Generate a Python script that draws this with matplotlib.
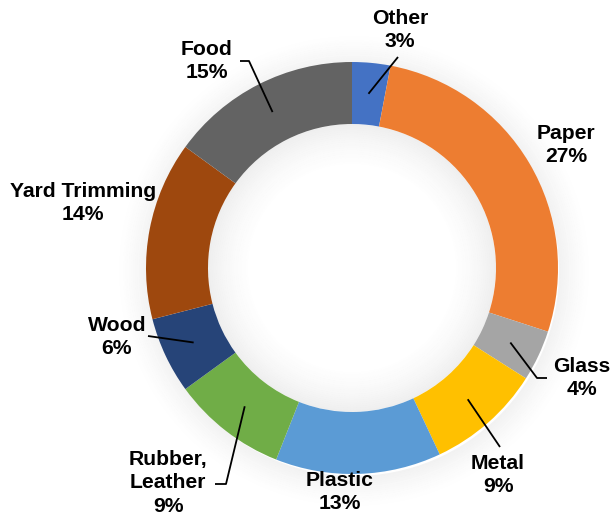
import numpy as np
import matplotlib
matplotlib.use('Agg')
from matplotlib import pyplot as plt
from matplotlib.patches import Wedge

# waste composition (percent of total)
categories = ['Other', 'Paper', 'Glass', 'Metal', 'Plastic',
              'Rubber,\nLeather', 'Wood', 'Yard Trimming', 'Food']
values = [3, 27, 4, 9, 13, 9, 6, 14, 15]
colors = ['#4472C4', '#ED7D31', '#A5A5A5', '#FFC000', '#5B9BD5',
          '#70AD47', '#264478', '#9E480E', '#636363']

W, H = 613, 518
cx, cy = 352, H - 268
R = 206
ring = 62

# label centres (pixels from top-left) and leader elbows
label_pos = {
    'Other': (400, 30),
    'Paper': (566, 145),
    'Glass': (582, 378),
    'Metal': (498, 475),
    'Plastic': (340, 492),
    'Rubber,\nLeather': (168, 483),
    'Wood': (117, 337),
    'Yard Trimming': (83, 203),
    'Food': (207, 61),
}
leaders = {
    'Other': [(398, 57)],
    'Glass': [(547, 378), (537, 378)],
    'Metal': [(500, 447)],
    'Rubber,\nLeather': [(215, 484), (226, 484)],
    'Wood': [(148, 336)],
    'Food': [(240, 61), (249, 61)],
}

plt.rcParams['font.family'] = ['Liberation Sans', 'DejaVu Sans']

fig = plt.figure(figsize=(W / 100, H / 100), dpi=100)
ax = fig.add_axes([0, 0, 1, 1])

# soft shadow outside the ring and inside the hole
n = 16
for k in range(n):
    a = 0.07 * (1 - k / n) ** 1.5
    ax.add_patch(Wedge((cx + 2, cy - 3), R + 1 + k * 2, 0, 360, width=2,
                       facecolor='0.3', edgecolor='none', alpha=a, zorder=0))
for k in range(22):
    a = 0.09 * (1 - k / 22) ** 1.6
    ax.add_patch(Wedge((cx, cy), R - ring - k * 2, 0, 360, width=2,
                       facecolor='0.3', edgecolor='none', alpha=a, zorder=0))

wedges, _ = ax.pie(values, colors=colors, startangle=90, counterclock=False,
                   radius=R, center=(cx, cy), frame=True,
                   wedgeprops=dict(width=ring, linewidth=0))
ax.set_xlim(0, W)
ax.set_ylim(0, H)
ax.set_aspect('equal')
ax.axis('off')

for wdg, name, v in zip(wedges, categories, values):
    lx, ly = label_pos[name]
    ax.text(lx, H - ly, f'{name}\n{v}%', ha='center', va='center',
            fontsize=15.2, fontweight='bold', linespacing=1.28, zorder=5)
    if name in leaders:
        mid = np.deg2rad((wdg.theta1 + wdg.theta2) / 2)
        r_mid = R - ring / 2
        px = [cx + r_mid * np.cos(mid)]
        py = [cy + r_mid * np.sin(mid)]
        for ex, ey in reversed(leaders[name]):
            px.append(ex)
            py.append(H - ey)
        ax.plot(px, py, color='black', lw=1.3, zorder=6,
                solid_capstyle='butt')

fig.savefig('out.png', dpi=100)
